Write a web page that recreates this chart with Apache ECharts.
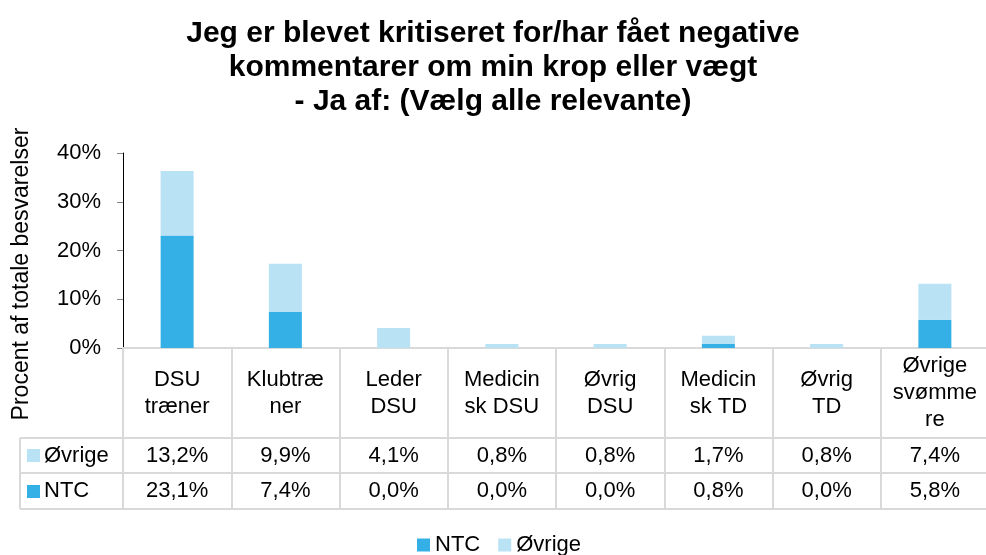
<!DOCTYPE html>
<html>
<head>
<meta charset="utf-8">
<script src="https://cdn.jsdelivr.net/npm/echarts@6/dist/echarts.min.js"></script>
<style>
  html, body { margin: 0; padding: 0; background: #fff; }
  #chart { width: 986px; height: 555px; }
</style>
</head>
<body>
<div id="chart"></div>
<script>
// kategorier (ombrudt som i originalen)
var categories = ['DSU\ntræner', 'Klubtræ\nner', 'Leder\nDSU', 'Medicin\nsk DSU', 'Øvrig\nDSU', 'Medicin\nsk TD', 'Øvrig\nTD', 'Øvrige\nsvømme\nre'];
var ntc = [23.1, 7.4, 0.0, 0.0, 0.0, 0.8, 0.0, 5.8];
var ovrige = [13.2, 9.9, 4.1, 0.8, 0.8, 1.7, 0.8, 7.4];
var yTicks = [0, 10, 20, 30, 40];

var FONT = "'Liberation Sans', Arial, sans-serif";
var FS = 22;
var C_NTC = '#35B0E6';
var C_OVR = '#B9E2F5';
var LINE = '#D9D9D9';

function pct(v) { return v.toFixed(1).replace('.', ',') + '%'; }

// grid / tabel geometri
var gLeft = 123, gTop = 153, gW = 866, gH = 195;
var axisY = gTop + gH;          // 348
var row1 = axisY + 90;          // 438
var row2 = axisY + 125;         // 473
var tBottom = axisY + 161;      // 509
var legX = 20;

var chart = echarts.init(document.getElementById('chart'));

function hline(y, x1, x2) {
  return { type: 'line', shape: { x1: x1, y1: y, x2: x2, y2: y }, style: { stroke: LINE, lineWidth: 2 } };
}

chart.setOption({
  animation: false,
  textStyle: { fontFamily: FONT },
  title: {
    text: 'Jeg er blevet kritiseret for/har fået negative\nkommentarer om min krop eller vægt\n- Ja af: (Vælg alle relevante)',
    left: 'center',
    top: 17,
    padding: [0, 0, 0, 8],
    textStyle: { fontFamily: FONT, fontWeight: 'bold', fontSize: 30, lineHeight: 34, color: '#000' }
  },
  legend: {
    data: ['NTC', 'Øvrige'],
    left: 412,
    top: 529,
    icon: 'rect',
    itemWidth: 13,
    itemHeight: 13,
    itemGap: 18,
    textStyle: { fontFamily: FONT, fontSize: FS, color: '#000' }
  },
  grid: { left: gLeft, top: gTop, width: gW, height: gH, outerBoundsMode: 'none' },
  xAxis: [
    {
      type: 'category',
      data: categories,
      position: 'bottom',
      axisLine: { show: true, lineStyle: { color: LINE, width: 2 } },
      axisTick: { show: true, interval: 0, length: tBottom - axisY, lineStyle: { color: LINE, width: 2 } },
      axisLabel: { interval: 0, margin: 45, verticalAlign: 'middle', fontSize: FS, lineHeight: 27, color: '#000', fontFamily: FONT }
    },
    {
      type: 'category',
      data: categories,
      position: 'bottom',
      offset: row1 - axisY,
      axisLine: { show: true, lineStyle: { color: LINE, width: 2 } },
      axisTick: { show: false },
      axisLabel: {
        interval: 0, margin: 18, verticalAlign: 'middle', fontSize: FS, color: '#000', fontFamily: FONT,
        formatter: function (v, i) { return pct(ovrige[i]); }
      }
    },
    {
      type: 'category',
      data: categories,
      position: 'bottom',
      offset: row2 - axisY,
      axisLine: { show: true, lineStyle: { color: LINE, width: 2 } },
      axisTick: { show: false },
      axisLabel: {
        interval: 0, margin: 18, verticalAlign: 'middle', fontSize: FS, color: '#000', fontFamily: FONT,
        formatter: function (v, i) { return pct(ntc[i]); }
      }
    }
  ],
  yAxis: {
    type: 'value',
    min: yTicks[0],
    max: yTicks[yTicks.length - 1],
    interval: 10,
    axisLine: { show: true, lineStyle: { color: '#000', width: 1 } },
    axisTick: { show: true, length: 6, lineStyle: { color: '#868686' } },
    splitLine: { show: false },
    axisLabel: { margin: 22, fontSize: FS, color: '#000', fontFamily: FONT, formatter: '{value}%' }
  },
  series: [
    { name: 'NTC', type: 'bar', stack: 'total', data: ntc, barWidth: 33, itemStyle: { color: C_NTC } },
    { name: 'Øvrige', type: 'bar', stack: 'total', data: ovrige, barWidth: 33, itemStyle: { color: C_OVR } }
  ],
  graphic: [
    hline(row1, legX, gLeft),
    hline(row2, legX, gLeft),
    hline(tBottom, legX, gLeft + gW),
    { type: 'line', shape: { x1: legX, y1: row1, x2: legX, y2: tBottom }, style: { stroke: LINE, lineWidth: 2 } },
    { type: 'rect', shape: { x: 27, y: 449, width: 13, height: 13 }, style: { fill: C_OVR } },
    { type: 'text', x: 44, y: (row1 + row2) / 2, style: { text: 'Øvrige', font: FS + 'px ' + FONT, fill: '#000', verticalAlign: 'middle' } },
    { type: 'rect', shape: { x: 27, y: 485, width: 13, height: 13 }, style: { fill: C_NTC } },
    { type: 'text', x: 44, y: (row2 + tBottom) / 2, style: { text: 'NTC', font: FS + 'px ' + FONT, fill: '#000', verticalAlign: 'middle' } },
    {
      type: 'text', x: 22, y: 274, rotation: Math.PI / 2,
      style: { text: 'Procent af totale besvarelser', font: '23px ' + FONT, fill: '#000', align: 'center', verticalAlign: 'middle' }
    }
  ]
});
</script>
</body>
</html>
